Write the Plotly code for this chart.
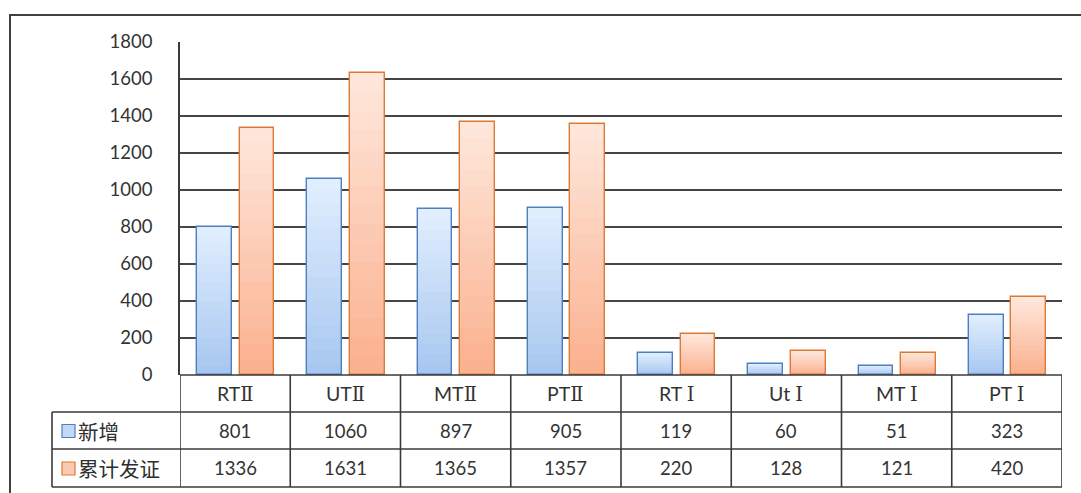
import plotly.graph_objects as go

categories = ["RTⅡ", "UTⅡ", "MTⅡ", "PTⅡ", "RT Ⅰ", "Ut Ⅰ", "MT Ⅰ", "PT Ⅰ"]
series_names = ["新增", "累计发证"]
new_added = [801, 1060, 897, 905, 119, 60, 51, 323]
cumulative = [1336, 1631, 1365, 1357, 220, 128, 121, 420]
y_ticks = [0, 200, 400, 600, 800, 1000, 1200, 1400, 1600, 1800]

W, H = 1081, 493


def px(x):
    return x / W


def py(y):
    return (H - y) / H


def mix(c1, c2, t):
    a = [int(c1[i:i + 2], 16) for i in (1, 3, 5)]
    b = [int(c2[i:i + 2], 16) for i in (1, 3, 5)]
    return "rgb(%d,%d,%d)" % tuple(round(a[j] + (b[j] - a[j]) * t) for j in range(3))


styles = [
    dict(top="#e2efff", bottom="#a6c6ef", edge="#4f7fbf", offset=-0.345, width=0.315),
    dict(top="#fee8dc", bottom="#fbb08e", edge="#dd7a35", offset=0.04, width=0.315),
]
series_values = [new_added, cumulative]

fig = go.Figure()
N = 16
x_idx = list(range(len(categories)))
for vals, st in zip(series_values, styles):
    for k in range(N):
        frac = (N - k) / N
        t = (N - k - 0.5) / N
        fig.add_trace(go.Bar(
            x=x_idx, y=[v * frac for v in vals],
            offset=st["offset"], width=st["width"],
            marker=dict(color=mix(st["bottom"], st["top"], t), line=dict(width=0)),
            hoverinfo="skip", showlegend=False,
        ))
    fig.add_trace(go.Bar(
        x=x_idx, y=vals, offset=st["offset"], width=st["width"],
        marker=dict(color="rgba(0,0,0,0)", line=dict(color=st["edge"], width=1.4)),
        hoverinfo="skip", showlegend=False,
    ))

font_lat = "Lato, 'Noto Sans CJK SC', sans-serif"
font_cjk = "'Noto Sans CJK SC', sans-serif"
txt_col = "#333333"
line_col = "#3a3a3a"

shapes = []
annotations = []

# outer frame (cut off at right and bottom)
shapes.append(dict(type="rect", xref="paper", yref="paper", x0=px(10), x1=1.02,
                   y0=-0.05, y1=py(15), line=dict(color="#404040", width=2)))

# table rows
row_y = [375, 412, 449, 487]
for i, yy in enumerate(row_y):
    shapes.append(dict(type="line", xref="x", yref="paper",
                       x0=-0.5, x1=len(categories) - 0.5, y0=py(yy), y1=py(yy),
                       line=dict(color=line_col, width=1.6)))
    if i >= 1:
        shapes.append(dict(type="line", xref="paper", yref="paper",
                           x0=px(52), x1=px(180), y0=py(yy), y1=py(yy),
                           line=dict(color=line_col, width=1.6)))
for i in range(len(categories) + 1):
    shapes.append(dict(type="line", xref="x", yref="paper",
                       x0=i - 0.5, x1=i - 0.5, y0=py(375), y1=py(487),
                       line=dict(color=line_col, width=1.6)))
shapes.append(dict(type="line", xref="paper", yref="paper",
                   x0=px(52), x1=px(52), y0=py(412), y1=py(487),
                   line=dict(color=line_col, width=1.6)))


def cat_label(c):
    out = ""
    for ch in c:
        if ch in "ⅠⅡ":
            out += "<span style='font-family:DejaVu Serif, Liberation Serif, serif'>%s</span>" % ch
        else:
            out += ch
    return out


for i, c in enumerate(categories):
    annotations.append(dict(x=i, y=py(393.5), xref="x", yref="paper", text=cat_label(c),
                            showarrow=False, font=dict(family=font_lat, size=19.5, color=txt_col),
                            xanchor="center", yanchor="middle"))

row_centers = [430.5, 468]
for r, (vals, name, st) in enumerate(zip(series_values, series_names, styles)):
    yc = row_centers[r]
    for i, v in enumerate(vals):
        annotations.append(dict(x=i, y=py(yc), xref="x", yref="paper", text=str(v),
                                showarrow=False, font=dict(family=font_lat, size=18.5, color=txt_col),
                                xanchor="center", yanchor="middle"))
    # legend key square
    shapes.append(dict(type="rect", xref="paper", yref="paper",
                       x0=px(62), x1=px(75), y0=py(yc + 7), y1=py(yc - 6),
                       fillcolor=mix(st["bottom"], st["top"], 0.45),
                       line=dict(color=st["edge"], width=1.2)))
    annotations.append(dict(x=px(76), y=py(yc), xref="paper", yref="paper", text=name,
                            showarrow=False, font=dict(family=font_cjk, size=20.5, color="#2e2e2e"),
                            xanchor="left", yanchor="middle"))

fig.update_layout(
    width=W, height=H,
    margin=dict(l=0, r=0, t=0, b=0, pad=0, autoexpand=False),
    paper_bgcolor="white", plot_bgcolor="white",
    barmode="overlay", bargap=0,
    showlegend=False,
    shapes=shapes, annotations=annotations,
    xaxis=dict(domain=[px(180), px(1062)], range=[-0.5, len(categories) - 0.5],
               showticklabels=False, showgrid=False, zeroline=False, showline=False,
               ticks="", fixedrange=True, automargin=False),
    yaxis=dict(domain=[py(375), py(42)], range=[0, 1800], tickvals=y_ticks,
               showgrid=True, gridcolor="#454545", gridwidth=1.6,
               zeroline=False, showline=True, linecolor=line_col, linewidth=1.6,
               ticks="", ticklabelstandoff=22, automargin=False,
               tickfont=dict(family=font_lat, size=18.5, color=txt_col), fixedrange=True),
)

fig.write_html("out.html", config={"displayModeBar": False},
               post_script="document.body.style.margin='0';document.body.style.overflow='hidden';")
